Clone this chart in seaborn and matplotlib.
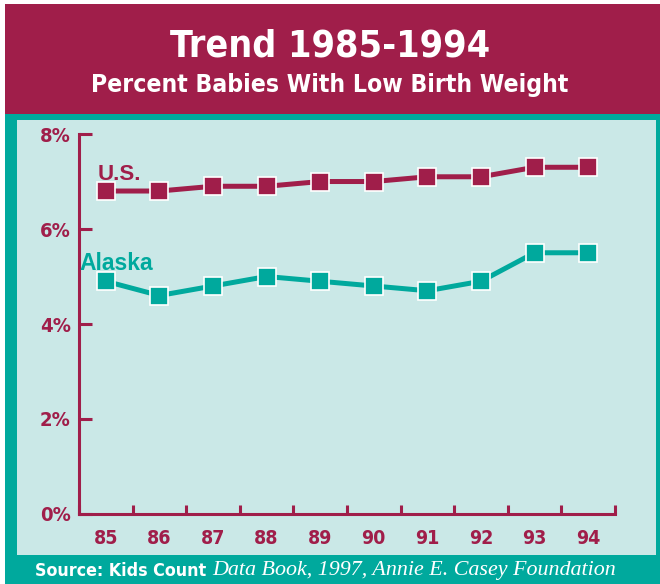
import pandas as pd
import numpy as np
import matplotlib
matplotlib.use('Agg')
import matplotlib.pyplot as plt
import seaborn as sns
from matplotlib.patches import Rectangle
from matplotlib.text import Annotation

years = [85, 86, 87, 88, 89, 90, 91, 92, 93, 94]
us_pct = [6.8, 6.8, 6.9, 6.9, 7.0, 7.0, 7.1, 7.1, 7.3, 7.3]
alaska_pct = [4.9, 4.6, 4.8, 5.0, 4.9, 4.8, 4.7, 4.9, 5.5, 5.5]
y_ticks = [0, 2, 4, 6, 8]
y_labels = ['0%', '2%', '4%', '6%', '8%']

MAROON = '#A01E4A'
TEAL = '#00A99D'
PANEL = '#CAE8E7'

sns.set_style('white')
# condensed bold is the closest thing we have to the original's narrow face
plt.rcParams['font.family'] = ['DejaVu Sans']
plt.rcParams['font.stretch'] = 'condensed'

df = pd.DataFrame({
    'year': years * 2,
    'pct': us_pct + alaska_pct,
    'region': ['U.S.'] * len(years) + ['Alaska'] * len(years),
})

fig = plt.figure(figsize=(6.6, 5.84), dpi=100)
fig.patch.set_facecolor('white')

# background blocks: maroon header, teal frame, light panel
fig.add_artist(Rectangle((0.0076, 0.8048), 0.9924, 0.188, transform=fig.transFigure,
                         facecolor=MAROON, edgecolor='none', zorder=0))
fig.add_artist(Rectangle((0.0076, 0.0), 0.9924, 0.8048, transform=fig.transFigure,
                         facecolor=TEAL, edgecolor='none', zorder=0))
fig.add_artist(Rectangle((0.0258, 0.0497), 0.9682, 0.7448, transform=fig.transFigure,
                         facecolor=PANEL, edgecolor='none', zorder=0))

fig.text(0.5, 0.9024, 'Trend 1985-1994', color='white', fontsize=27, fontweight='bold',
         ha='center', va='baseline')
fig.text(0.5, 0.8425, 'Percent Babies With Low Birth Weight', color='white', fontsize=17.7,
         fontweight='bold', ha='center', va='baseline')

src = fig.text(0.053, 0.0137, 'Source: Kids Count', color='white', fontsize=12.8,
               fontweight='bold', ha='left', va='baseline')
fig.add_artist(Annotation(
    'Data Book, 1997, Annie E. Casey Foundation', xy=(1, 0), xycoords=src,
    xytext=(4, 0), textcoords='offset points', color='white', fontsize=15.8,
    fontstyle='italic', family=['Liberation Serif', 'DejaVu Serif'], fontstretch='normal',
    ha='left', va='bottom'))

ax = fig.add_axes([0.1197, 0.1199, 0.8121, 0.6506])
ax.set_facecolor('none')

sns.lineplot(data=df, x='year', y='pct', hue='region',
             palette={'U.S.': MAROON, 'Alaska': TEAL},
             marker='s', markersize=12.5, markeredgecolor='white', markeredgewidth=1.2,
             linewidth=3.6, legend=False, ax=ax)

ax.set_xlim(years[0] - 0.5, years[-1] + 0.5)
ax.set_ylim(0, 8)
ax.set_xlabel('')
ax.set_ylabel('')

for side in ['top', 'right']:
    ax.spines[side].set_visible(False)
for side in ['left', 'bottom']:
    ax.spines[side].set_color(MAROON)
    ax.spines[side].set_linewidth(2.2)

ax.set_yticks(y_ticks)
ax.set_yticklabels(y_labels)
ax.tick_params(axis='y', left=True, direction='in', length=9.5, width=2.2, color=MAROON,
               labelcolor=MAROON, labelsize=14.5, pad=6)

ax.set_xticks(years)
ax.set_xticklabels([str(y) for y in years])
ax.set_xticks([y - 0.5 for y in years] + [years[-1] + 0.5], minor=True)
ax.tick_params(axis='x', which='major', bottom=True, length=0, labelcolor=MAROON,
               labelsize=14, pad=11)
ax.tick_params(axis='x', which='minor', bottom=True, direction='in', length=6.5,
               width=2.2, color=MAROON)
for lbl in ax.get_xticklabels() + ax.get_yticklabels():
    lbl.set_fontweight('bold')

ax.text(85 - 0.15, us_pct[0] + 0.23, 'U.S.', color=MAROON, fontsize=16, fontweight='bold',
        family=['Liberation Sans', 'DejaVu Sans'], fontstretch='normal',
        ha='left', va='baseline')
ax.text(85 - 0.5, alaska_pct[0] + 0.24, 'Alaska', color=TEAL, fontsize=16.5, fontweight='bold',
        family=['Liberation Sans', 'DejaVu Sans'], fontstretch='normal',
        ha='left', va='baseline')

fig.savefig('out.png', dpi=100, facecolor=fig.get_facecolor())
